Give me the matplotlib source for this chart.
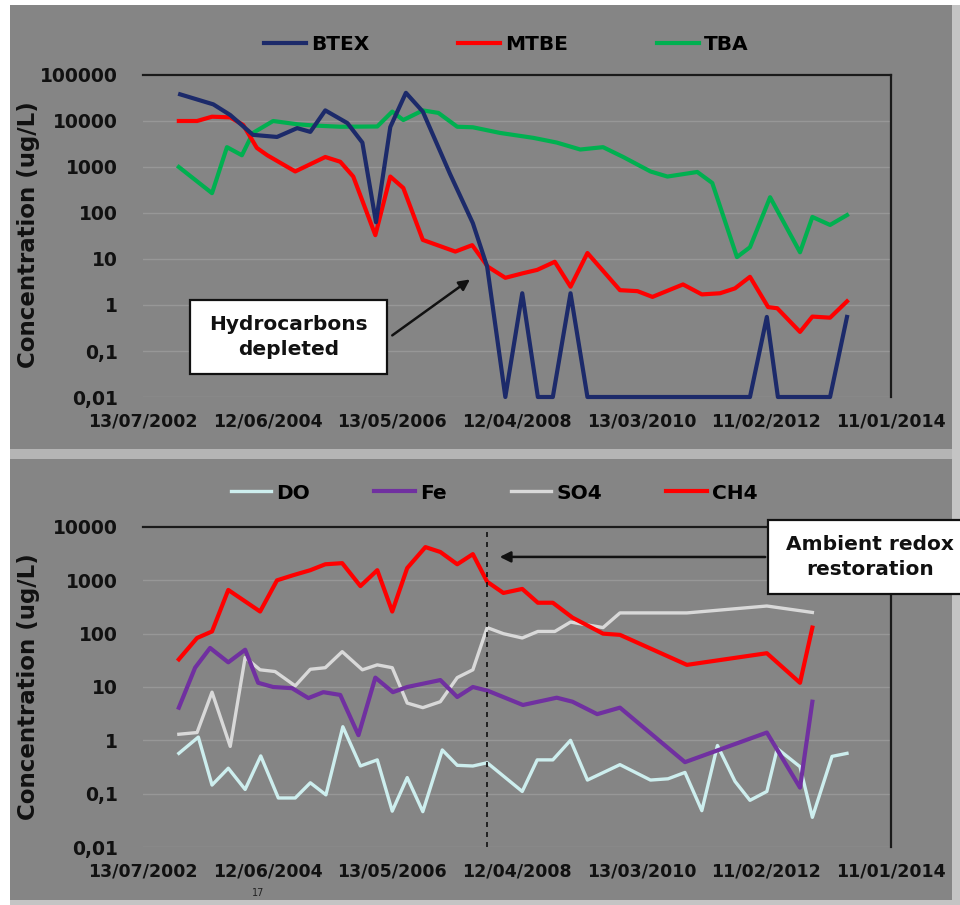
import matplotlib
matplotlib.use("Agg")
import matplotlib.pyplot as plt
import matplotlib.dates as mdates
from matplotlib.patches import Rectangle
from matplotlib.ticker import FixedLocator, FixedFormatter, NullLocator
from datetime import datetime, timedelta

# --------------------------------------------------
# DATA (sample times as decimal years, concentrations in ug/L)

btex_t = [2003.10, 2003.61, 2003.87, 2004.22, 2004.59, 2004.90, 2005.10, 2005.33, 2005.67,
          2005.90, 2006.11, 2006.33, 2006.57, 2006.83, 2007.25, 2007.60, 2007.82, 2008.10,
          2008.36, 2008.60, 2008.83, 2009.10, 2009.36, 2010.33, 2011.86, 2012.12, 2012.29,
          2013.09, 2013.35]
btex = [38000, 23000, 13500, 5000, 4500, 7000, 5800, 17000, 9000,
        3400, 63, 7400, 41000, 16000, 700, 60, 6.8, 0.01,
        1.8, 0.01, 0.01, 1.8, 0.01, 0.01, 0.01, 0.55, 0.01,
        0.01, 0.55]

mtbe_t = [2003.08, 2003.36, 2003.59, 2003.87, 2004.07, 2004.28, 2004.44, 2004.87, 2005.33,
          2005.56, 2005.76, 2006.10, 2006.33, 2006.53, 2006.83, 2007.33, 2007.59, 2007.83,
          2008.10, 2008.37, 2008.59, 2008.86, 2009.10, 2009.36, 2009.86, 2010.13, 2010.36,
          2010.83, 2011.12, 2011.40, 2011.63, 2011.86, 2012.14, 2012.28, 2012.63, 2012.82,
          2013.09, 2013.35]
mtbe = [10000, 10000, 12400, 12000, 8200, 2600, 1800, 800, 1650,
        1300, 620, 33, 620, 350, 26, 14.5, 20, 6.8,
        3.9, 4.9, 5.8, 8.7, 2.5, 13.5, 2.1, 2.0, 1.5,
        2.8, 1.7, 1.8, 2.3, 4.1, 0.9, 0.85, 0.26, 0.56,
        0.53, 1.2]

tba_t = [2003.08, 2003.59, 2003.82, 2004.05, 2004.22, 2004.53, 2004.90, 2005.14, 2005.56,
         2006.13, 2006.36, 2006.53, 2006.83, 2007.07, 2007.36, 2007.60, 2008.02, 2008.53,
         2008.89, 2009.25, 2009.60, 2009.91, 2010.33, 2010.59, 2011.05, 2011.28, 2011.66,
         2011.86, 2012.17, 2012.63, 2012.82, 2013.09, 2013.35]
tba = [1000, 270, 2700, 1800, 5500, 10000, 8500, 8000, 7500,
       7600, 16000, 10500, 17000, 15000, 7500, 7300, 5500, 4300,
       3400, 2400, 2700, 1650, 800, 620, 780, 450, 11,
       18, 220, 14, 82, 55, 90]

do_t = [2003.08, 2003.38, 2003.59, 2003.84, 2004.10, 2004.34, 2004.61, 2004.87, 2005.10,
        2005.34, 2005.60, 2005.87, 2006.13, 2006.36, 2006.59, 2006.83, 2007.13, 2007.36,
        2007.60, 2007.82, 2008.36, 2008.59, 2008.83, 2009.10, 2009.36, 2009.86, 2010.33,
        2010.60, 2010.86, 2011.12, 2011.36, 2011.63, 2011.86, 2012.12, 2012.28, 2012.63,
        2012.82, 2013.12, 2013.35]
do = [0.57, 1.15, 0.145, 0.30, 0.12, 0.51, 0.083, 0.083, 0.16,
      0.095, 1.8, 0.33, 0.43, 0.047, 0.2, 0.046, 0.66, 0.34,
      0.33, 0.38, 0.11, 0.43, 0.43, 1.0, 0.18, 0.35, 0.18,
      0.19, 0.25, 0.048, 0.8, 0.17, 0.075, 0.11, 0.7, 0.32,
      0.036, 0.5, 0.57]

fe_t = [2003.08, 2003.33, 2003.56, 2003.84, 2004.10, 2004.30, 2004.53, 2004.82, 2005.07,
        2005.30, 2005.56, 2005.84, 2006.10, 2006.37, 2006.59, 2007.10, 2007.36, 2007.60,
        2007.83, 2008.37, 2008.89, 2009.13, 2009.51, 2009.86, 2010.86, 2012.12, 2012.63,
        2012.82]
fe = [4.1, 23, 54, 29, 50, 12, 10, 9.5, 6.2,
      8, 7.1, 1.25, 15, 8, 10, 13.5, 6.5, 10,
      8.5, 4.6, 6.3, 5.3, 3.1, 4.1, 0.39, 1.4, 0.13,
      5.3]

so4_t = [2003.08, 2003.36, 2003.59, 2003.87, 2004.10, 2004.33, 2004.56, 2004.87, 2005.10,
         2005.33, 2005.59, 2005.90, 2006.13, 2006.36, 2006.59, 2006.83, 2007.10, 2007.36,
         2007.60, 2007.82, 2008.07, 2008.36, 2008.60, 2008.86, 2009.10, 2009.60, 2009.86,
         2010.89, 2012.12, 2012.82]
so4 = [1.3, 1.4, 8, 0.77, 36, 21, 19.5, 10.5, 21.5,
       23, 46, 21, 26, 23, 5, 4.1, 5.3, 15,
       21, 130, 100, 83, 110, 110, 165, 130, 245,
       245, 330, 250]

ch4_t = [2003.08, 2003.36, 2003.59, 2003.84, 2004.33, 2004.59, 2004.84, 2005.10, 2005.33,
         2005.59, 2005.87, 2006.13, 2006.36, 2006.59, 2006.87, 2007.10, 2007.36, 2007.60,
         2007.82, 2008.07, 2008.36, 2008.60, 2008.83, 2009.13, 2009.60, 2009.86, 2010.89,
         2012.12, 2012.63, 2012.82]
ch4 = [33, 83, 110, 660, 260, 1000, 1250, 1550, 2000,
       2100, 780, 1550, 260, 1700, 4200, 3400, 2000, 3100,
       940, 580, 690, 380, 380, 200, 100, 95, 26,
       43, 12, 130]

date_labels = ['13/07/2002', '12/06/2004', '13/05/2006', '12/04/2008',
               '13/03/2010', '11/02/2012', '11/01/2014']
top_yticks = [0.01, 0.1, 1, 10, 100, 1000, 10000, 100000]
top_ylabels = ['0,01', '0,1', '1', '10', '100', '1000', '10000', '100000']
bot_yticks = [0.01, 0.1, 1, 10, 100, 1000, 10000]
bot_ylabels = ['0,01', '0,1', '1', '10', '100', '1000', '10000']

# --------------------------------------------------

def to_dates(years):
    out = []
    for y in years:
        out.append(datetime(int(y), 1, 1) + timedelta(days=(y - int(y)) * 365.25))
    return out

def one_date(y):
    return to_dates([y])[0]

tick_dates = [datetime.strptime(s, '%d/%m/%Y') for s in date_labels]

W, H = 960, 905
fig = plt.figure(figsize=(W / 100, H / 100), dpi=100, facecolor='white')
plt.rcParams['font.family'] = ['DejaVu Sans']

PANEL = '#858585'

def px_rect(x0, y0, x1, y1, color):
    fig.add_artist(Rectangle((x0 / W, 1 - y1 / H), (x1 - x0) / W, (y1 - y0) / H,
                             transform=fig.transFigure, facecolor=color,
                             edgecolor='none', zorder=-10))

# panel backgrounds
px_rect(10, 5, 952, 449, PANEL)
px_rect(10, 449, 960, 459, '#b5b5b5')
px_rect(10, 459, 952, 900, PANEL)
px_rect(952, 5, 960, 905, '#c4c4c4')
px_rect(10, 900, 960, 905, '#c4c4c4')

def style_axes(ax, yticks, ylabels):
    ax.set_facecolor(PANEL)
    ax.set_yscale('log')
    ax.set_ylim(yticks[0], yticks[-1])
    ax.set_xlim(tick_dates[0], tick_dates[-1])
    ax.yaxis.set_major_locator(FixedLocator(yticks))
    ax.yaxis.set_major_formatter(FixedFormatter(ylabels))
    ax.yaxis.set_minor_locator(NullLocator())
    ax.xaxis.set_major_locator(FixedLocator(mdates.date2num(tick_dates)))
    ax.xaxis.set_major_formatter(FixedFormatter(date_labels))
    ax.tick_params(axis='y', length=0, pad=18, labelsize=13.5, labelcolor='#111111')
    ax.tick_params(axis='x', length=0, pad=11, labelsize=12.5, labelcolor='#111111')
    for lab in ax.get_xticklabels() + ax.get_yticklabels():
        lab.set_fontweight('bold')
    ax.grid(axis='y', color='#979797', lw=1.0)
    ax.set_axisbelow(True)
    ax.spines['left'].set_visible(False)
    ax.spines['bottom'].set_visible(False)
    ax.spines['top'].set_color('#1a1a1a')
    ax.spines['top'].set_linewidth(1.6)
    ax.spines['right'].set_color('#1a1a1a')
    ax.spines['right'].set_linewidth(1.6)

# TOP PANEL: BTEX / MTBE / TBA
ax1 = fig.add_axes([143 / W, 1 - 397 / H, 748 / W, 322 / H])
style_axes(ax1, top_yticks, top_ylabels)
ax1.plot(to_dates(tba_t), tba, color='#00b050', lw=3, label='TBA', clip_on=False, zorder=3)
ax1.plot(to_dates(mtbe_t), mtbe, color='#ff0000', lw=3, label='MTBE', clip_on=False, zorder=4)
ax1.plot(to_dates(btex_t), btex, color='#1c2a6a', lw=3, label='BTEX', clip_on=False, zorder=5)
h, l = ax1.get_legend_handles_labels()
order = [2, 1, 0]
fig.legend([h[i] for i in order], [l[i] for i in order], loc='center',
           bbox_to_anchor=(506 / W, 1 - 45 / H), ncol=3, frameon=False,
           handlelength=2.1, handletextpad=0.25, columnspacing=4.4,
           prop={'weight': 'bold', 'size': 14.5})

# BOTTOM PANEL: DO / Fe / SO4 / CH4
ax2 = fig.add_axes([143 / W, 1 - 847 / H, 748 / W, 320 / H])
style_axes(ax2, bot_yticks, bot_ylabels)
ax2.plot(to_dates(do_t), do, color='#cdeeee', lw=2.4, label='DO', clip_on=False, zorder=3)
ax2.plot(to_dates(fe_t), fe, color='#7030a0', lw=3, label='Fe', clip_on=False, zorder=4)
ax2.plot(to_dates(so4_t), so4, color='#d9d9d9', lw=2.4, label='SO4', clip_on=False, zorder=3)
ax2.plot(to_dates(ch4_t), ch4, color='#ff0000', lw=3, label='CH4', clip_on=False, zorder=5)
fig.legend(*ax2.get_legend_handles_labels(), loc='center',
           bbox_to_anchor=(494 / W, 1 - 493 / H), ncol=4, frameon=False,
           handlelength=2.0, handletextpad=0.25, columnspacing=3.2,
           prop={'weight': 'bold', 'size': 14.5})

# vertical marker for the redox change
ax2.axvline(one_date(2007.82), color='#111111', lw=1.2, ls=(0, (3, 3)), zorder=6)

# Y-axis labels
for yc in (235, 687):
    fig.text(29 / W, 1 - yc / H, 'Concentration (ug/L)', rotation=90, ha='center',
             va='center', fontsize=16.5, fontweight='bold', color='#111111')

# Callout boxes
def callout(x0, y0, x1, y1, text):
    fig.add_artist(Rectangle((x0 / W, 1 - y1 / H), (x1 - x0) / W, (y1 - y0) / H,
                             transform=fig.transFigure, facecolor='white',
                             edgecolor='#111111', lw=1.6, zorder=20))
    fig.text((x0 + x1) / 2 / W, 1 - (y0 + y1) / 2 / H, text, ha='center', va='center',
             fontsize=14.5, fontweight='bold', color='#111111', linespacing=1.4, zorder=21)

callout(190, 300, 387, 374, 'Hydrocarbons\ndepleted')
callout(768, 520, 972, 594, 'Ambient redox\nrestoration')

arrow = dict(arrowstyle='-|>', color='#111111', lw=1.8, mutation_scale=16)
ax1.annotate('', xy=(one_date(2007.59), 3.9), xycoords='data',
             xytext=(390 / W, 1 - 337 / H), textcoords='figure fraction',
             arrowprops=arrow, zorder=22)
ax2.annotate('', xy=(one_date(2007.97), 2750), xycoords='data',
             xytext=(768 / W, 1 - 557 / H), textcoords='figure fraction',
             arrowprops=arrow, zorder=22)

# page number
fig.text(258 / W, 1 - 893 / H, '17', ha='center', va='center', fontsize=7, color='#222222')

fig.savefig('out.png', dpi=100, facecolor='white')
